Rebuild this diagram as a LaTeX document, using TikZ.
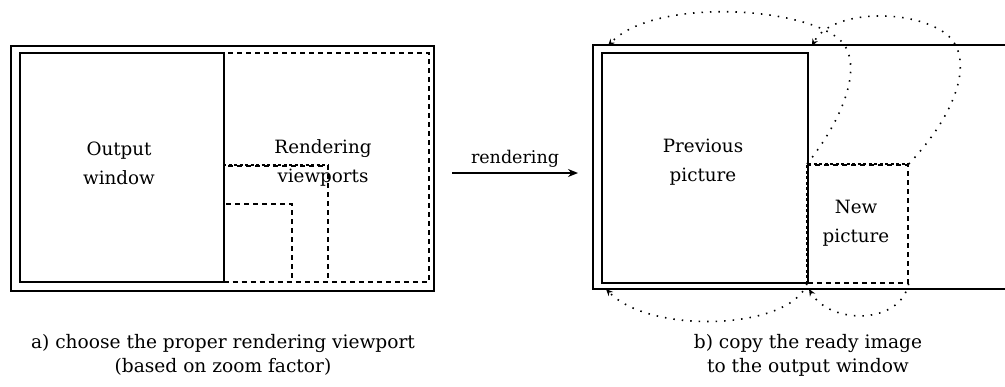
\documentclass[tikz,border=0pt]{standalone}
\usepackage{fontspec}
\setmainfont{DejaVu Serif}
\usetikzlibrary{arrows.meta,positioning}

\begin{document}
\begin{tikzpicture}[
  x=1pt, y=-1pt,
  every node/.style = {font=\fontsize{18.3}{29}\selectfont, align=center},
  box/.style = {rectangle, draw, line width=1.9pt, inner sep=0pt, anchor=north west},
  vport/.style = {rectangle, draw, line width=1.7pt, dash pattern=on 5pt off 4pt,
    inner sep=0pt, anchor=north west},
  thickdot/.style = {line width=2.6pt, dash pattern=on 3pt off 2.5pt},
  copyarr/.style = {-{Stealth[length=7pt,width=6pt]}, line width=1.6pt,
    dash pattern=on 1.5pt off 7pt},
  arr/.style = {-{Stealth[length=10pt,width=8pt]}, line width=1.6pt},
  capt/.style = {font=\fontsize{18.6}{24}\selectfont}
]
\useasboundingbox (0,0) rectangle (1005,386);

% a) choosing the viewport
\node[box, minimum width=423pt, minimum height=245pt] (frameA) at (10,45) {};
\node[vport, minimum width=205pt, minimum height=229pt] (vpbig) at (223,52) {};
\node[vport, minimum width=104pt, minimum height=116pt] (vpmid) at (223,165) {};
\node[vport, minimum width=68pt, minimum height=78pt] (vpsmall) at (223,203) {};
\draw[thickdot] (vpmid.north west) -- (vpmid.north east);
\node[box, minimum width=204pt, minimum height=229pt] (outwin) at (19,52) {};
\node at (119,163) {Output\\window};
\node at (323,163) {Rendering\\viewports};

% rendering step
\coordinate (rstart) at (452,173);
\coordinate (rend) at (578,173);
\draw[arr] (rstart) -- node[above=1pt, font=\fontsize{17.5}{20}\selectfont] {rendering} (rend);

% b) copying to the output window
\draw[line width=1.9pt] (1005,45) -- (593,45) -- (593,289) -- (1005,289);
\coordinate (cornerTL) at (608,46);
\coordinate (cornerTM) at (812,46);
\coordinate (cornerBL) at (606,289);
\coordinate (cornerBM) at (809,289);
\node[box, minimum width=206pt, minimum height=230pt] (prev) at (601,52) {};
\node at (703,162) {Previous\\picture};
\node[vport, minimum width=100pt, minimum height=118pt] (newpic) at (807,164) {};
\draw[thickdot] (newpic.south west) -- (newpic.north west) -- (newpic.north east);
\node at (856,223) {New\\picture};

\draw[copyarr] (newpic.north west) .. controls (850,110) and (865,55) .. (835,36)
  .. controls (790,5) and (650,0) .. (cornerTL);
\draw[copyarr] (newpic.north east) .. controls (960,110) and (975,55) .. (945,33)
  .. controls (910,8) and (830,10) .. (cornerTM);
\draw[copyarr] (newpic.south west) .. controls (790,330) and (650,335) .. (cornerBL);
\draw[copyarr] (newpic.south east) .. controls (900,325) and (830,325) .. (cornerBM);

% captions
\node[capt] (captA) at (223,355) {a) choose the proper rendering viewport\\(based on zoom factor)};
\node[capt] (captB) at (808,355) {b) copy the ready image\\to the output window};
\end{tikzpicture}
\end{document}
